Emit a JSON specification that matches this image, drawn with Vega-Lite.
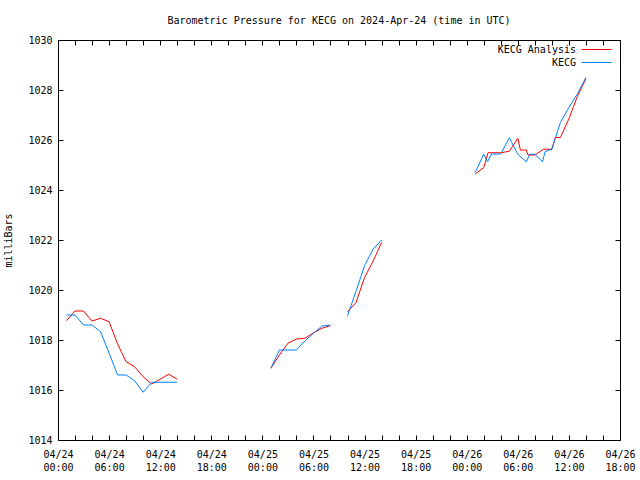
{
  "$schema": "https://vega.github.io/schema/vega-lite/v6.json",
  "width": 562,
  "height": 400,
  "autosize": {"type": "none"},
  "padding": {"left": 58, "top": 40, "right": 20, "bottom": 40},
  "background": "white",
  "config": {
    "font": "DejaVu Sans Mono",
    "view": {"stroke": "black", "strokeWidth": 1},
    "axis": {"labelFont": "DejaVu Sans Mono", "labelFontSize": 10, "labelColor": "black", "tickColor": "black", "tickWidth": 1, "tickOpacity": 1, "zindex": 1, "domain": false, "grid": false, "titleFont": "DejaVu Sans Mono", "titleFontSize": 10, "titleFontWeight": "normal", "titleColor": "black"}
  },
  "title": {"text": "Barometric Pressure for KECG on 2024-Apr-24 (time in UTC)", "font": "DejaVu Sans Mono", "fontSize": 10, "fontWeight": "normal", "color": "black", "offset": 9},
  "data": {"values": [
    {"series": "KECG Analysis", "seg": 1, "time": "2024-04-24T01:00:00Z", "p": 1018.77},
    {"series": "KECG Analysis", "seg": 1, "time": "2024-04-24T02:00:00Z", "p": 1019.16},
    {"series": "KECG Analysis", "seg": 1, "time": "2024-04-24T03:00:00Z", "p": 1019.16},
    {"series": "KECG Analysis", "seg": 1, "time": "2024-04-24T04:00:00Z", "p": 1018.76},
    {"series": "KECG Analysis", "seg": 1, "time": "2024-04-24T05:00:00Z", "p": 1018.87},
    {"series": "KECG Analysis", "seg": 1, "time": "2024-04-24T06:00:00Z", "p": 1018.73},
    {"series": "KECG Analysis", "seg": 1, "time": "2024-04-24T07:00:00Z", "p": 1017.84},
    {"series": "KECG Analysis", "seg": 1, "time": "2024-04-24T08:00:00Z", "p": 1017.13},
    {"series": "KECG Analysis", "seg": 1, "time": "2024-04-24T09:00:00Z", "p": 1016.93},
    {"series": "KECG Analysis", "seg": 1, "time": "2024-04-24T10:00:00Z", "p": 1016.53},
    {"series": "KECG Analysis", "seg": 1, "time": "2024-04-24T11:00:00Z", "p": 1016.24},
    {"series": "KECG Analysis", "seg": 1, "time": "2024-04-24T12:00:00Z", "p": 1016.43},
    {"series": "KECG Analysis", "seg": 1, "time": "2024-04-24T13:00:00Z", "p": 1016.63},
    {"series": "KECG Analysis", "seg": 1, "time": "2024-04-24T14:00:00Z", "p": 1016.43},
    {"series": "KECG Analysis", "seg": 2, "time": "2024-04-25T01:00:00Z", "p": 1016.87},
    {"series": "KECG Analysis", "seg": 2, "time": "2024-04-25T02:00:00Z", "p": 1017.4},
    {"series": "KECG Analysis", "seg": 2, "time": "2024-04-25T03:00:00Z", "p": 1017.87},
    {"series": "KECG Analysis", "seg": 2, "time": "2024-04-25T04:00:00Z", "p": 1018.04},
    {"series": "KECG Analysis", "seg": 2, "time": "2024-04-25T05:00:00Z", "p": 1018.07},
    {"series": "KECG Analysis", "seg": 2, "time": "2024-04-25T06:00:00Z", "p": 1018.29},
    {"series": "KECG Analysis", "seg": 2, "time": "2024-04-25T07:00:00Z", "p": 1018.47},
    {"series": "KECG Analysis", "seg": 2, "time": "2024-04-25T08:00:00Z", "p": 1018.58},
    {"series": "KECG Analysis", "seg": 3, "time": "2024-04-25T10:00:00Z", "p": 1019.13},
    {"series": "KECG Analysis", "seg": 3, "time": "2024-04-25T11:00:00Z", "p": 1019.5},
    {"series": "KECG Analysis", "seg": 3, "time": "2024-04-25T12:00:00Z", "p": 1020.5},
    {"series": "KECG Analysis", "seg": 3, "time": "2024-04-25T13:00:00Z", "p": 1021.15},
    {"series": "KECG Analysis", "seg": 3, "time": "2024-04-25T14:00:00Z", "p": 1021.9},
    {"series": "KECG Analysis", "seg": 4, "time": "2024-04-26T01:00:00Z", "p": 1024.64},
    {"series": "KECG Analysis", "seg": 4, "time": "2024-04-26T02:00:00Z", "p": 1024.9},
    {"series": "KECG Analysis", "seg": 4, "time": "2024-04-26T02:30:00Z", "p": 1025.49},
    {"series": "KECG Analysis", "seg": 4, "time": "2024-04-26T04:00:00Z", "p": 1025.49},
    {"series": "KECG Analysis", "seg": 4, "time": "2024-04-26T05:00:00Z", "p": 1025.55},
    {"series": "KECG Analysis", "seg": 4, "time": "2024-04-26T06:00:00Z", "p": 1026.07},
    {"series": "KECG Analysis", "seg": 4, "time": "2024-04-26T06:18:00Z", "p": 1025.6},
    {"series": "KECG Analysis", "seg": 4, "time": "2024-04-26T07:00:00Z", "p": 1025.6},
    {"series": "KECG Analysis", "seg": 4, "time": "2024-04-26T07:12:00Z", "p": 1025.4},
    {"series": "KECG Analysis", "seg": 4, "time": "2024-04-26T08:00:00Z", "p": 1025.4},
    {"series": "KECG Analysis", "seg": 4, "time": "2024-04-26T09:00:00Z", "p": 1025.63},
    {"series": "KECG Analysis", "seg": 4, "time": "2024-04-26T10:00:00Z", "p": 1025.63},
    {"series": "KECG Analysis", "seg": 4, "time": "2024-04-26T10:24:00Z", "p": 1026.1},
    {"series": "KECG Analysis", "seg": 4, "time": "2024-04-26T11:00:00Z", "p": 1026.1},
    {"series": "KECG Analysis", "seg": 4, "time": "2024-04-26T12:00:00Z", "p": 1026.85},
    {"series": "KECG Analysis", "seg": 4, "time": "2024-04-26T13:00:00Z", "p": 1027.75},
    {"series": "KECG Analysis", "seg": 4, "time": "2024-04-26T14:00:00Z", "p": 1028.45},
    {"series": "KECG", "seg": 1, "time": "2024-04-24T01:00:00Z", "p": 1019.0},
    {"series": "KECG", "seg": 1, "time": "2024-04-24T02:00:00Z", "p": 1019.0},
    {"series": "KECG", "seg": 1, "time": "2024-04-24T03:00:00Z", "p": 1018.6},
    {"series": "KECG", "seg": 1, "time": "2024-04-24T04:00:00Z", "p": 1018.6},
    {"series": "KECG", "seg": 1, "time": "2024-04-24T05:00:00Z", "p": 1018.33},
    {"series": "KECG", "seg": 1, "time": "2024-04-24T06:00:00Z", "p": 1017.48},
    {"series": "KECG", "seg": 1, "time": "2024-04-24T07:00:00Z", "p": 1016.6},
    {"series": "KECG", "seg": 1, "time": "2024-04-24T08:00:00Z", "p": 1016.6},
    {"series": "KECG", "seg": 1, "time": "2024-04-24T09:00:00Z", "p": 1016.37},
    {"series": "KECG", "seg": 1, "time": "2024-04-24T10:00:00Z", "p": 1015.91},
    {"series": "KECG", "seg": 1, "time": "2024-04-24T11:00:00Z", "p": 1016.31},
    {"series": "KECG", "seg": 1, "time": "2024-04-24T12:00:00Z", "p": 1016.31},
    {"series": "KECG", "seg": 1, "time": "2024-04-24T13:00:00Z", "p": 1016.31},
    {"series": "KECG", "seg": 1, "time": "2024-04-24T14:00:00Z", "p": 1016.31},
    {"series": "KECG", "seg": 2, "time": "2024-04-25T01:00:00Z", "p": 1016.87},
    {"series": "KECG", "seg": 2, "time": "2024-04-25T02:00:00Z", "p": 1017.6},
    {"series": "KECG", "seg": 2, "time": "2024-04-25T03:00:00Z", "p": 1017.6},
    {"series": "KECG", "seg": 2, "time": "2024-04-25T04:00:00Z", "p": 1017.6},
    {"series": "KECG", "seg": 2, "time": "2024-04-25T05:00:00Z", "p": 1017.97},
    {"series": "KECG", "seg": 2, "time": "2024-04-25T06:00:00Z", "p": 1018.27},
    {"series": "KECG", "seg": 2, "time": "2024-04-25T07:00:00Z", "p": 1018.56},
    {"series": "KECG", "seg": 2, "time": "2024-04-25T08:00:00Z", "p": 1018.59},
    {"series": "KECG", "seg": 3, "time": "2024-04-25T10:00:00Z", "p": 1018.97},
    {"series": "KECG", "seg": 3, "time": "2024-04-25T11:00:00Z", "p": 1019.95},
    {"series": "KECG", "seg": 3, "time": "2024-04-25T12:00:00Z", "p": 1020.97},
    {"series": "KECG", "seg": 3, "time": "2024-04-25T13:00:00Z", "p": 1021.63},
    {"series": "KECG", "seg": 3, "time": "2024-04-25T14:00:00Z", "p": 1022.0},
    {"series": "KECG", "seg": 4, "time": "2024-04-26T01:00:00Z", "p": 1024.7},
    {"series": "KECG", "seg": 4, "time": "2024-04-26T02:00:00Z", "p": 1025.43},
    {"series": "KECG", "seg": 4, "time": "2024-04-26T02:27:00Z", "p": 1025.13},
    {"series": "KECG", "seg": 4, "time": "2024-04-26T02:54:00Z", "p": 1025.44},
    {"series": "KECG", "seg": 4, "time": "2024-04-26T04:00:00Z", "p": 1025.44},
    {"series": "KECG", "seg": 4, "time": "2024-04-26T05:00:00Z", "p": 1026.09},
    {"series": "KECG", "seg": 4, "time": "2024-04-26T06:00:00Z", "p": 1025.43},
    {"series": "KECG", "seg": 4, "time": "2024-04-26T07:00:00Z", "p": 1025.13},
    {"series": "KECG", "seg": 4, "time": "2024-04-26T07:24:00Z", "p": 1025.43},
    {"series": "KECG", "seg": 4, "time": "2024-04-26T08:00:00Z", "p": 1025.43},
    {"series": "KECG", "seg": 4, "time": "2024-04-26T08:54:00Z", "p": 1025.13},
    {"series": "KECG", "seg": 4, "time": "2024-04-26T09:12:00Z", "p": 1025.53},
    {"series": "KECG", "seg": 4, "time": "2024-04-26T10:00:00Z", "p": 1025.64},
    {"series": "KECG", "seg": 4, "time": "2024-04-26T11:00:00Z", "p": 1026.7},
    {"series": "KECG", "seg": 4, "time": "2024-04-26T12:00:00Z", "p": 1027.3},
    {"series": "KECG", "seg": 4, "time": "2024-04-26T13:00:00Z", "p": 1027.85},
    {"series": "KECG", "seg": 4, "time": "2024-04-26T14:00:00Z", "p": 1028.5}
  ]},
  "layer": [
    {
      "mark": {"type": "line", "strokeWidth": 1, "clip": true},
      "encoding": {
        "x": {"field": "time", "type": "temporal",
          "scale": {"type": "utc", "nice": false, "domain": [1713916800000, 1714154400000]},
          "axis": {"orient": "bottom", "title": null,
            "values": [1713916800000, 1713924000000, 1713931200000, 1713938400000, 1713945600000, 1713952800000, 1713960000000, 1713967200000, 1713974400000, 1713981600000, 1713988800000, 1713996000000, 1714003200000, 1714010400000, 1714017600000, 1714024800000, 1714032000000, 1714039200000, 1714046400000, 1714053600000, 1714060800000, 1714068000000, 1714075200000, 1714082400000, 1714089600000, 1714096800000, 1714104000000, 1714111200000, 1714118400000, 1714125600000, 1714132800000, 1714140000000, 1714147200000, 1714154400000],
            "tickSize": -5, "labelPadding": 14, "labelBaseline": "top", "labelLineHeight": 13, "labelOverlap": false, "labelFlush": false,
            "labelExpr": "utchours(datum.value) % 6 == 0 ? [utcFormat(datum.value, '%m/%d'), utcFormat(datum.value, '%H:%M')] : ''"}},
        "y": {"field": "p", "type": "quantitative",
          "scale": {"domain": [1014, 1030], "nice": false, "zero": false},
          "axis": {"orient": "left", "title": "milliBars", "values": [1014, 1016, 1018, 1020, 1022, 1024, 1026, 1028, 1030], "format": "d", "tickSize": -5, "labelPadding": 11, "titlePadding": 14}},
        "color": {"field": "series", "type": "nominal",
          "scale": {"domain": ["KECG Analysis", "KECG"], "range": ["#ff0000", "#0080ff"]},
          "legend": {"orient": "none", "legendX": 533, "legendY": 4, "title": null, "padding": 0, "symbolType": "M-3,0H3", "symbolSize": 100, "symbolStrokeWidth": 1, "symbolFillColor": "transparent", "labelAlign": "right", "labelOffset": -26, "labelFont": "DejaVu Sans Mono", "labelFontSize": 10, "labelColor": "black", "rowPadding": 2}},
        "detail": {"field": "seg"}
      }
    },
    {
      "mark": {"type": "point", "opacity": 0},
      "encoding": {
        "x": {"field": "time", "type": "temporal",
          "axis": {"orient": "top", "title": null, "labels": false,
            "values": [1713916800000, 1713924000000, 1713931200000, 1713938400000, 1713945600000, 1713952800000, 1713960000000, 1713967200000, 1713974400000, 1713981600000, 1713988800000, 1713996000000, 1714003200000, 1714010400000, 1714017600000, 1714024800000, 1714032000000, 1714039200000, 1714046400000, 1714053600000, 1714060800000, 1714068000000, 1714075200000, 1714082400000, 1714089600000, 1714096800000, 1714104000000, 1714111200000, 1714118400000, 1714125600000, 1714132800000, 1714140000000, 1714147200000, 1714154400000],
            "tickSize": -5}},
        "y": {"field": "p", "type": "quantitative",
          "axis": {"orient": "right", "title": null, "labels": false, "values": [1014, 1016, 1018, 1020, 1022, 1024, 1026, 1028, 1030], "tickSize": -5}}
      }
    }
  ],
  "resolve": {"axis": {"x": "independent", "y": "independent"}}
}
